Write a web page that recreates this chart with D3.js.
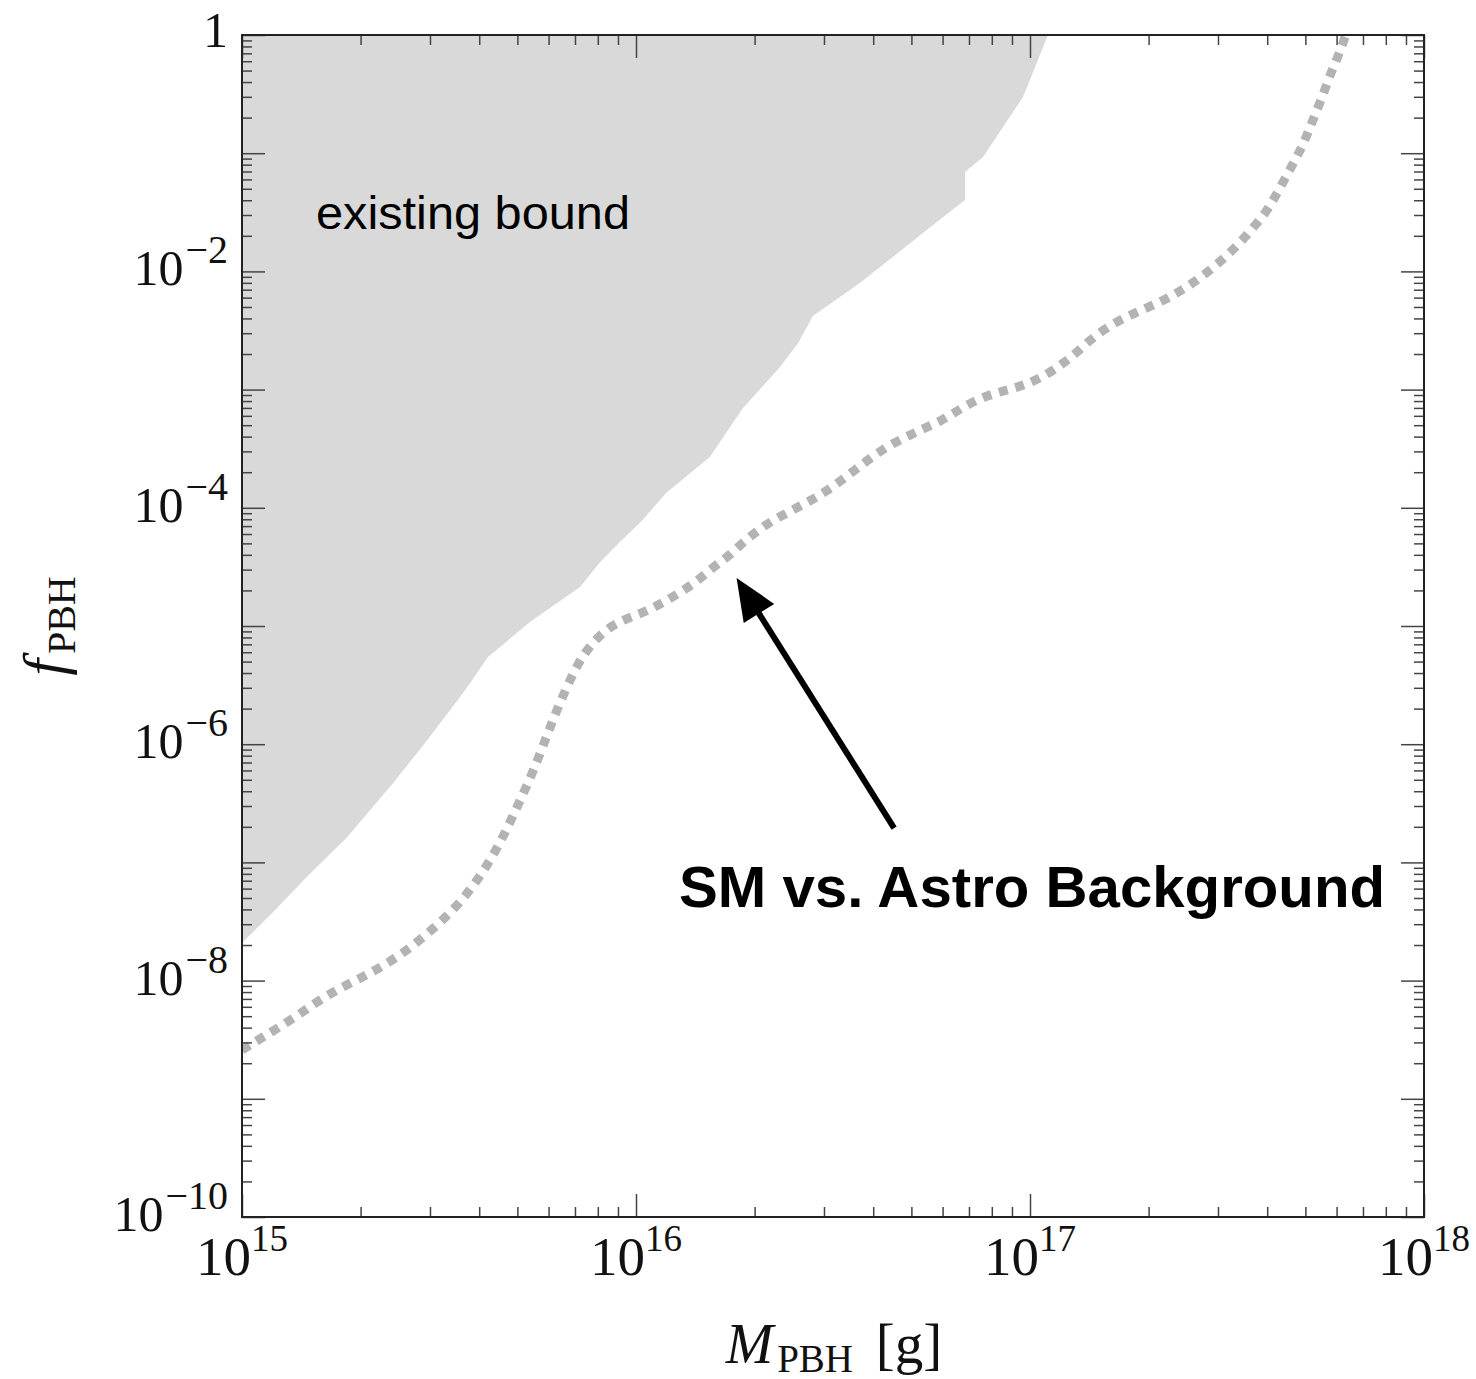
<!doctype html>
<html>
  <head>
    <meta charset="UTF-8"/>
    <title>PBH bound</title>
    <script src="https://d3js.org/d3.v7.min.js"></script>
    <style>
      body { margin: 0; padding: 0; background: #fff; }
      .tex { font-family: "Liberation Serif", "DejaVu Serif", serif; fill: #111; }
      .sans { font-family: "Liberation Sans", Arial, sans-serif; fill: #000; }
      .tick line { stroke: #444; stroke-width: 1.5; }
    </style>
  </head>
  <body>
    <svg id="chart" width="1476" height="1379"></svg>
    <script>
      // existing bound (upper edge of shaded region)
      const boundMass = [1.0e15, 1.20e15, 1.46e15, 1.85e15, 2.42e15, 2.91e15, 3.53e15, 3.84e15, 4.21e15,
        5.38e15, 7.21e15, 8.11e15, 9.10e15, 1.04e16, 1.19e16, 1.54e16, 1.86e16, 2.32e16, 2.58e16,
        2.81e16, 3.70e16, 6.02e16, 6.84e16, 6.84e16, 7.60e16, 9.60e16, 1.04e17, 1.11e17];
      const boundFrac = [2.08e-8, 3.80e-8, 7.52e-8, 1.64e-7, 4.70e-7, 1.02e-6, 2.37e-6, 3.49e-6, 5.47e-6,
        1.08e-5, 2.14e-5, 3.48e-5, 5.14e-5, 7.89e-5, 1.33e-4, 2.69e-4, 6.85e-4, 1.55e-3, 2.48e-3,
        4.20e-3, 7.97e-3, 2.88e-2, 4.02e-2, 6.93e-2, 9.29e-2, 0.299, 0.580, 1.0];

      // SM vs. Astro Background sensitivity (dotted)
      const sensMass = [1.0e15, 1.13e15, 1.37e15, 1.65e15, 2.03e15, 2.47e15, 2.96e15, 3.51e15, 4.04e15,
        4.54e15, 4.99e15, 5.48e15, 5.95e15, 6.34e15, 6.96e15, 7.38e15, 7.91e15, 8.64e15, 9.55e15,
        1.067e16, 1.18e16, 1.30e16, 1.43e16, 1.56e16, 1.71e16, 1.86e16, 2.03e16, 2.23e16, 2.47e16,
        2.73e16, 3.02e16, 3.31e16, 3.62e16, 3.97e16, 4.36e16, 4.84e16, 5.35e16, 5.94e16, 6.53e16,
        7.21e16, 8.01e16, 8.96e16, 1.0e17, 1.11e17, 1.21e17, 1.31e17, 1.42e17, 1.56e17, 1.73e17,
        1.92e17, 2.14e17, 2.36e17, 2.59e17, 2.85e17, 3.11e17, 3.37e17, 3.64e17, 3.93e17, 4.16e17,
        4.39e17, 4.65e17, 4.90e17, 5.11e17, 5.32e17, 5.57e17, 5.77e17, 6.05e17, 6.30e17, 6.5e17];
      const sensFrac = [2.59e-9, 3.33e-9, 4.92e-9, 7.7e-9, 1.07e-8, 1.55e-8, 2.48e-8, 4.2e-8, 7.7e-8,
        1.49e-7, 2.94e-7, 5.82e-7, 1.20e-6, 2.07e-6, 4.16e-6, 5.80e-6, 7.76e-6, 1.0e-5, 1.17e-5,
        1.34e-5, 1.60e-5, 1.94e-5, 2.40e-5, 3.10e-5, 3.84e-5, 5.04e-5, 6.37e-5, 7.89e-5, 9.4e-5,
        1.12e-4, 1.36e-4, 1.69e-4, 2.13e-4, 2.69e-4, 3.33e-4, 3.97e-4, 4.65e-4, 5.42e-4, 6.59e-4,
        8.0e-4, 9.19e-4, 1.01e-3, 1.14e-3, 1.36e-3, 1.65e-3, 2.04e-3, 2.63e-3, 3.32e-3, 4.04e-3,
        4.71e-3, 5.51e-3, 6.56e-3, 7.97e-3, 1.01e-2, 1.30e-2, 1.67e-2, 2.24e-2, 3.00e-2, 4.10e-2,
        5.71e-2, 8.1e-2, 0.113, 0.157, 0.223, 0.323, 0.459, 0.652, 0.96, 1.25];

      // arrow annotation: tail -> head
      const arrowMass = [4.52e16, 1.80e16];
      const arrowFrac = [1.95e-7, 2.55e-5];

      const massExps = [15, 16, 17, 18];
      const fracExps = [0, -1, -2, -3, -4, -5, -6, -7, -8, -9, -10];
      const fracLabelExps = [0, -2, -4, -6, -8, -10];

      const L = 242, R = 1424, T = 35, B = 1217;
      const svg = d3.select("#chart");
      const x = d3.scaleLog().domain([1e15, 1e18]).range([L, R]);
      const y = d3.scaleLog().domain([1e-10, 1]).range([B, T]);

      svg.append("defs").append("clipPath").attr("id", "plotClip")
        .append("rect").attr("x", L).attr("y", T).attr("width", R - L).attr("height", B - T);
      const plot = svg.append("g").attr("clip-path", "url(#plotClip)");

      // shaded existing bound
      const boundPts = boundMass.map((m, i) => [m, boundFrac[i]]);
      boundPts.push([1e15, 1]);
      plot.append("path")
        .attr("d", d3.line().x(d => x(d[0])).y(d => y(d[1]))(boundPts) + "Z")
        .attr("fill", "#d9d9d9").attr("stroke", "none");

      // dotted sensitivity curve
      const sensPts = sensMass.map((m, i) => [m, sensFrac[i]]);
      plot.append("path")
        .attr("d", d3.line().curve(d3.curveBasis).x(d => x(d[0])).y(d => y(d[1]))(sensPts))
        .attr("fill", "none").attr("stroke", "#b3b3b3")
        .attr("stroke-width", 9).attr("stroke-dasharray", "9 8");

      // ticks
      const minorOf = exps => {
        const out = [];
        exps.forEach(e => { for (let k = 2; k <= 9; k++) out.push(k * Math.pow(10, e)); });
        return out;
      };
      const xMajor = massExps.map(e => Math.pow(10, e));
      const xMinor = minorOf(massExps.slice(0, -1));
      const yMajor = fracExps.map(e => Math.pow(10, e));
      const yMinor = minorOf(fracExps.slice(1));

      const addAxis = (axis, tx, ty) => {
        const g = svg.append("g").attr("transform", `translate(${tx},${ty})`).call(axis);
        g.select(".domain").remove();
        g.selectAll("text").remove();
      };
      addAxis(d3.axisBottom(x).tickValues(xMajor).tickSize(-23), 0, B);
      addAxis(d3.axisBottom(x).tickValues(xMinor).tickSize(-10), 0, B);
      addAxis(d3.axisTop(x).tickValues(xMajor).tickSize(-23), 0, T);
      addAxis(d3.axisTop(x).tickValues(xMinor).tickSize(-10), 0, T);
      addAxis(d3.axisLeft(y).tickValues(yMajor).tickSize(-23), L, 0);
      addAxis(d3.axisLeft(y).tickValues(yMinor).tickSize(-10), L, 0);
      addAxis(d3.axisRight(y).tickValues(yMajor).tickSize(-23), R, 0);
      addAxis(d3.axisRight(y).tickValues(yMinor).tickSize(-10), R, 0);

      svg.append("rect").attr("x", L).attr("y", T).attr("width", R - L).attr("height", B - T)
        .attr("fill", "none").attr("stroke", "#222").attr("stroke-width", 2);

      // x tick labels
      massExps.forEach(e => {
        const t = svg.append("text").attr("class", "tex")
          .attr("x", x(Math.pow(10, e))).attr("y", B + 58).attr("text-anchor", "middle")
          .attr("font-size", 55);
        t.append("tspan").text("10");
        t.append("tspan").attr("font-size", 37).attr("dy", -24).text(String(e));
      });

      // y tick labels
      fracLabelExps.forEach(e => {
        const t = svg.append("text").attr("class", "tex")
          .attr("x", L - 14).attr("y", y(Math.pow(10, e)) + 14).attr("text-anchor", "end")
          .attr("font-size", 50);
        if (e === 0) { t.attr("y", y(1) + 12).text("1"); return; }
        t.append("tspan").text("10");
        t.append("tspan").attr("font-size", 40).attr("dy", -22).attr("dx", 2).text("\u2212" + (-e));
      });

      // axis titles
      const xt = svg.append("text").attr("class", "tex").attr("x", 834).attr("y", 1363)
        .attr("text-anchor", "middle").attr("font-size", 57);
      xt.append("tspan").attr("font-style", "italic").text("M");
      xt.append("tspan").attr("font-size", 39).attr("dy", 9).attr("dx", 4).text("PBH");
      xt.append("tspan").attr("dy", -9).text("\u2009\u2009[g]");

      const yt = svg.append("text").attr("class", "tex")
        .attr("transform", "translate(64,626) rotate(-90)")
        .attr("text-anchor", "middle").attr("font-size", 60);
      yt.append("tspan").attr("font-style", "italic").text("f");
      yt.append("tspan").attr("font-size", 40).attr("dy", 11).attr("dx", 5).text("PBH");

      // annotations
      svg.append("text").attr("class", "sans").attr("x", 316).attr("y", 229)
        .attr("font-size", 47).attr("textLength", 314).attr("lengthAdjust", "spacingAndGlyphs")
        .text("existing bound");

      svg.append("text").attr("class", "sans").attr("x", 679).attr("y", 907)
        .attr("font-size", 57).attr("font-weight", "bold")
        .attr("textLength", 706).attr("lengthAdjust", "spacingAndGlyphs")
        .text("SM vs. Astro Background");

      const x0 = x(arrowMass[0]), y0 = y(arrowFrac[0]);
      const x1 = x(arrowMass[1]), y1 = y(arrowFrac[1]);
      const ang = Math.atan2(y1 - y0, x1 - x0);
      const headLen = 42, headW = 18;
      const bx = x1 - headLen * Math.cos(ang), by = y1 - headLen * Math.sin(ang);
      svg.append("line").attr("x1", x0).attr("y1", y0)
        .attr("x2", bx + 4 * Math.cos(ang)).attr("y2", by + 4 * Math.sin(ang))
        .attr("stroke", "#000").attr("stroke-width", 6);
      const px = -Math.sin(ang), py = Math.cos(ang);
      svg.append("path")
        .attr("d", `M${x1},${y1}L${bx + headW * px},${by + headW * py}L${bx - headW * px},${by - headW * py}Z`)
        .attr("fill", "#000");
    </script>
  </body>
</html>
